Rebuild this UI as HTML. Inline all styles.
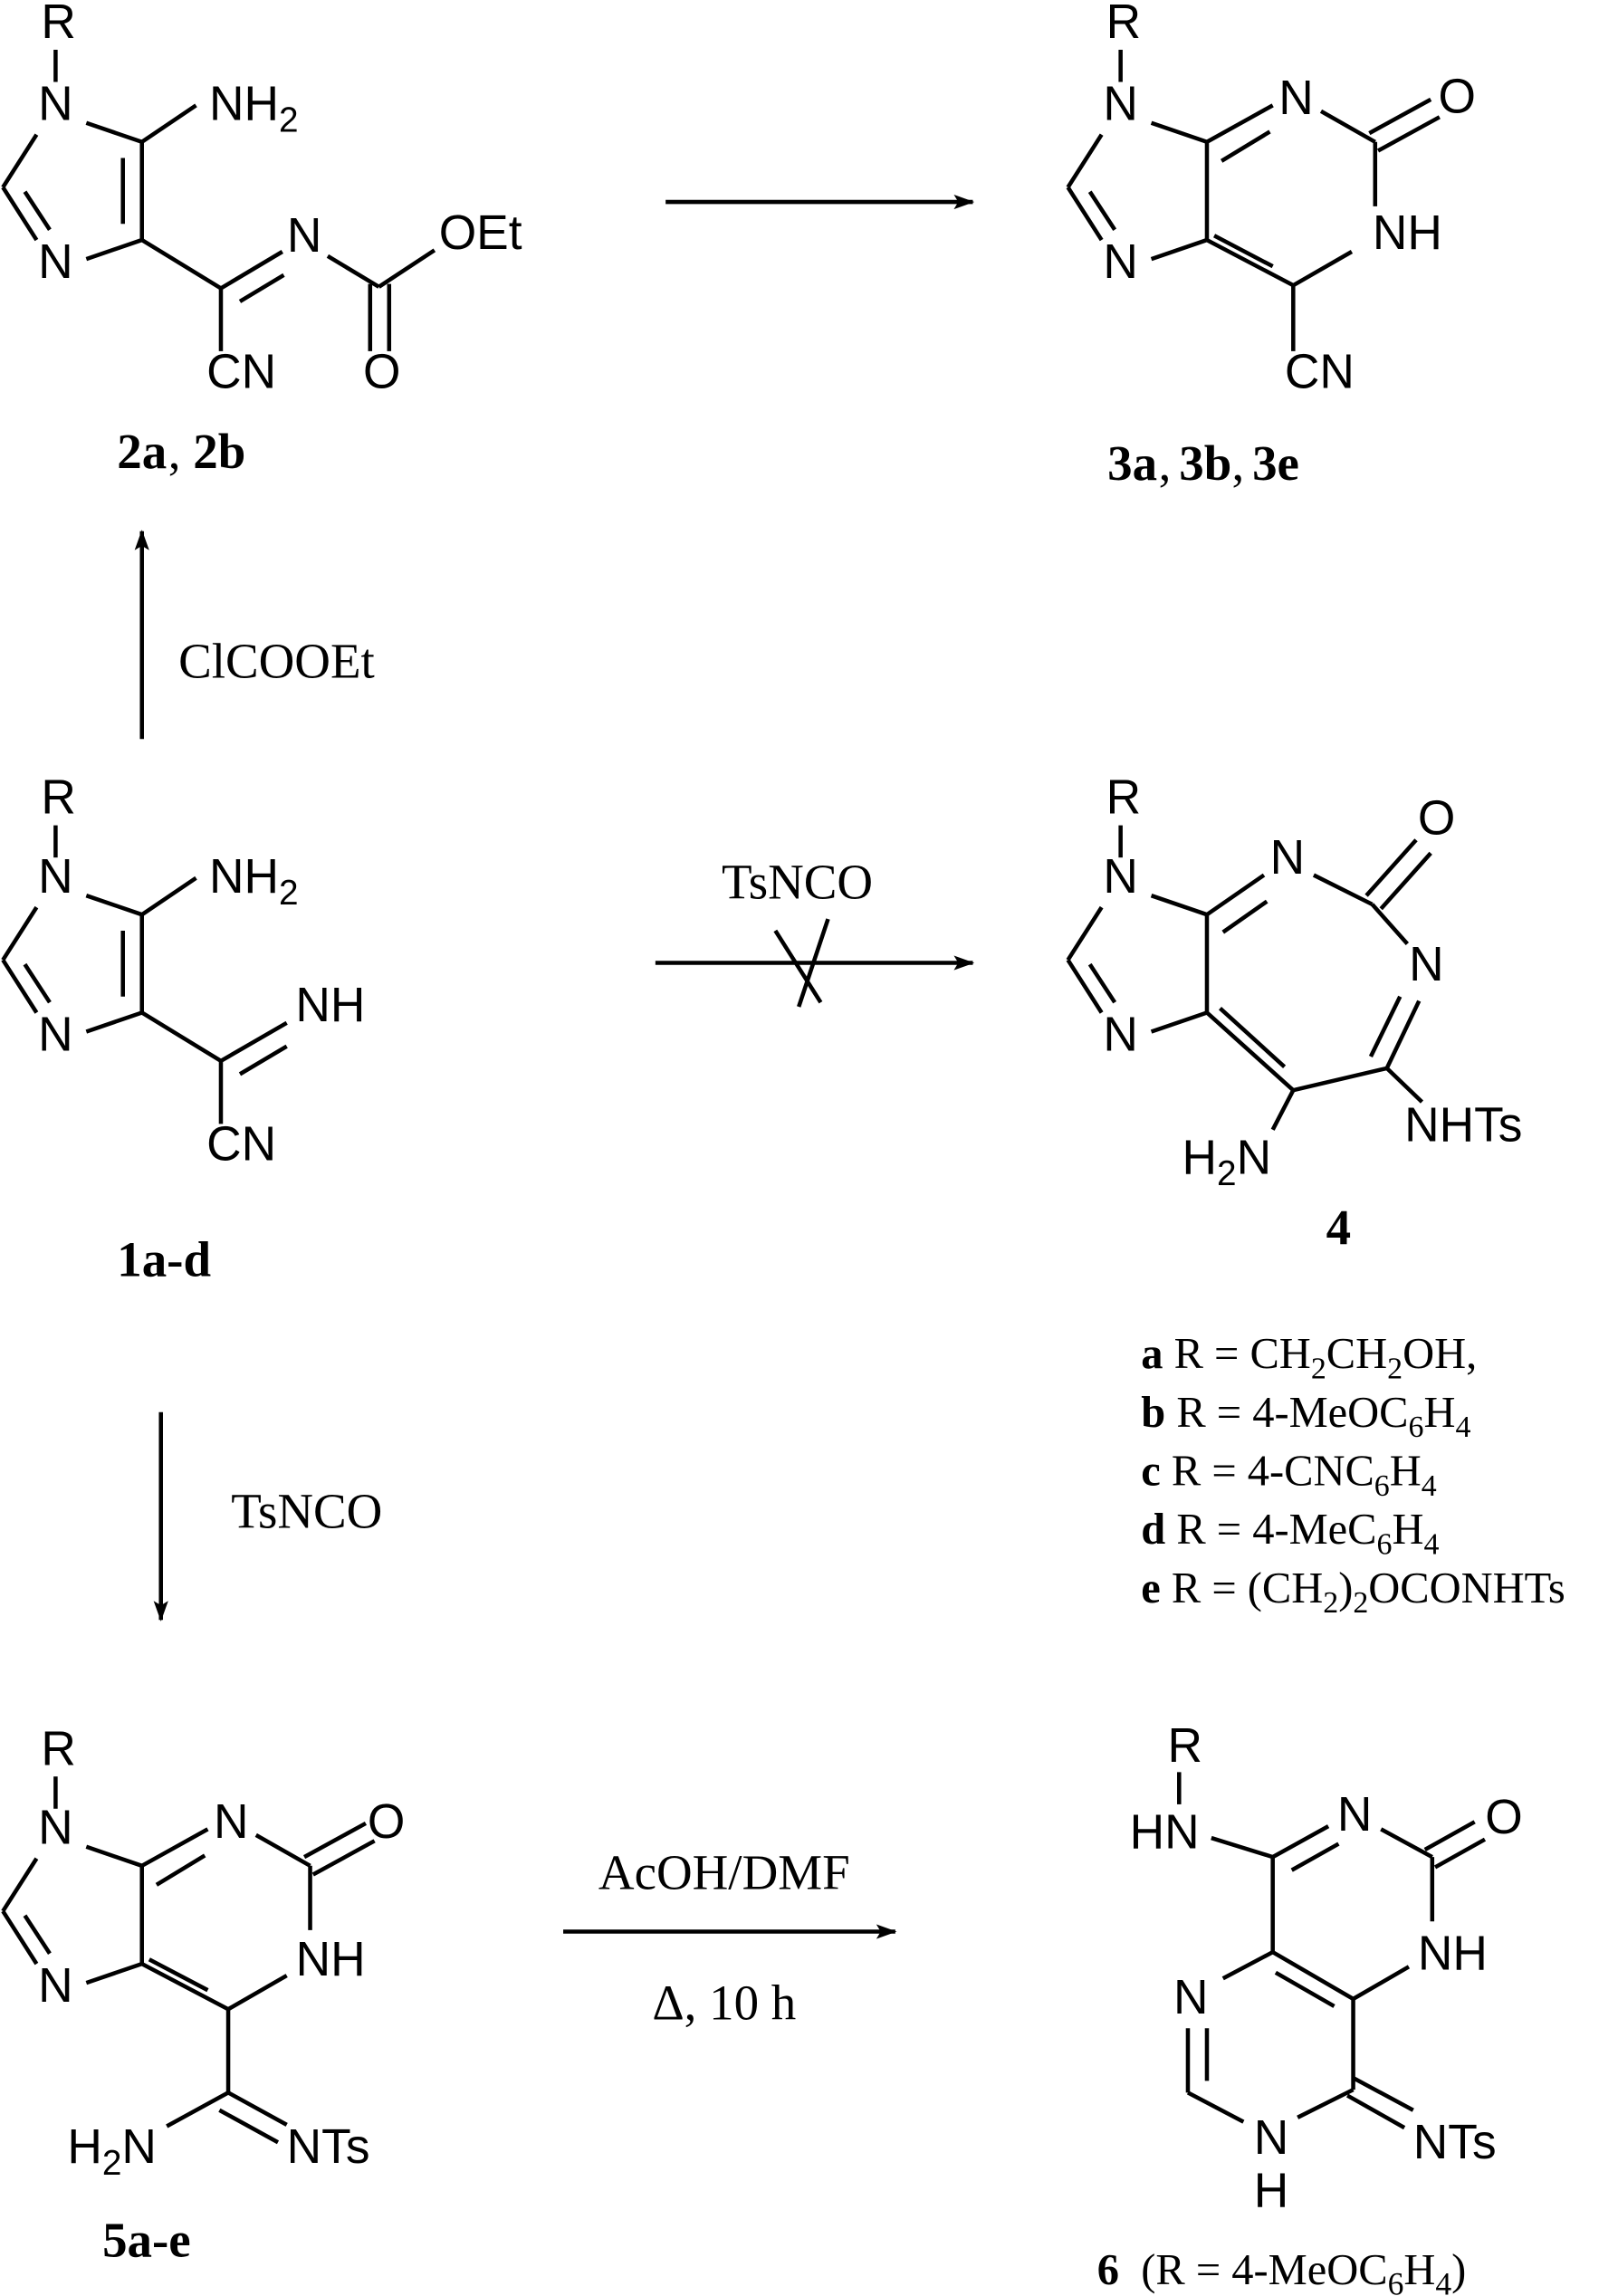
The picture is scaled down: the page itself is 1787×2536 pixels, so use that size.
<!DOCTYPE html>
<html><head><meta charset="utf-8"><style>
html,body{margin:0;padding:0;background:#fff}
svg{display:block}
.a{font-family:"Liberation Sans",Arial,sans-serif;font-size:33px;fill:#000}
.s{font-size:24px}
.t{font-family:"Liberation Serif","Times New Roman",serif;font-size:30px;fill:#000}
.r{font-size:34px}
.b{font-weight:bold}
line,polyline{stroke:#000;stroke-width:2.8;fill:none;stroke-linecap:butt}
</style></head><body>
<svg width="1787" height="2536" viewBox="0 0 1106 1569" preserveAspectRatio="none" xmlns="http://www.w3.org/2000/svg">
<defs>
<marker id="ah" markerWidth="14" markerHeight="10" refX="13" refY="5" orient="auto" markerUnits="userSpaceOnUse">
<path d="M0,0 L14,5 L0,10 L3,5 Z" fill="#000"/></marker>
</defs>

<!-- ========== 2a,2b ========== -->
<g>
<text class="a" x="40" y="26" text-anchor="middle">R</text>
<line x1="38" y1="34" x2="38" y2="56"/>
<text class="a" x="38" y="82" text-anchor="middle">N</text>
<text class="a" x="143" y="82">NH<tspan class="s" dy="8">2</tspan></text>
<line x1="59" y1="84" x2="97" y2="97"/>
<line x1="97" y1="97" x2="134" y2="72"/>
<line x1="97" y1="97" x2="97" y2="164"/>
<line x1="84" y1="108" x2="84" y2="153"/>
<line x1="97" y1="164" x2="59" y2="177"/>
<text class="a" x="38" y="190" text-anchor="middle">N</text>
<line x1="25" y1="92" x2="2" y2="128"/>
<line x1="2" y1="128" x2="25" y2="164"/>
<line x1="17" y1="131" x2="34" y2="157"/>
<line x1="97" y1="164" x2="151" y2="197"/>
<line x1="151" y1="197" x2="193" y2="172"/>
<line x1="164" y1="206" x2="194" y2="188"/>
<text class="a" x="208" y="172" text-anchor="middle">N</text>
<line x1="224" y1="175" x2="259" y2="196"/>
<line x1="259" y1="196" x2="297" y2="171"/>
<text class="a" x="300" y="170">OEt</text>
<line x1="253" y1="194" x2="253" y2="240"/>
<line x1="266" y1="194" x2="266" y2="240"/>
<text class="a" x="261" y="265" text-anchor="middle">O</text>
<line x1="151" y1="197" x2="151" y2="240"/>
<text class="a" x="165" y="265" text-anchor="middle">CN</text>
<text class="t b r" x="80" y="320">2a</text><text class="t r" x="115" y="320">, </text><text class="t b r" x="132" y="320">2b</text>
</g>

<!-- top arrow -->
<line x1="455" y1="138" x2="665" y2="138" marker-end="url(#ah)"/>

<!-- ========== 3a ========== -->
<g>
<text class="a" x="768" y="26" text-anchor="middle">R</text>
<line x1="766" y1="34" x2="766" y2="56"/>
<text class="a" x="766" y="82" text-anchor="middle">N</text>
<line x1="787" y1="84" x2="825" y2="97"/>
<line x1="825" y1="97" x2="825" y2="164"/>
<line x1="825" y1="164" x2="787" y2="177"/>
<text class="a" x="766" y="190" text-anchor="middle">N</text>
<line x1="753" y1="92" x2="730" y2="128"/>
<line x1="730" y1="128" x2="753" y2="164"/>
<line x1="745" y1="131" x2="762" y2="157"/>
<line x1="825" y1="97" x2="870" y2="72"/>
<line x1="835" y1="110" x2="868" y2="90"/>
<text class="a" x="886" y="78" text-anchor="middle">N</text>
<line x1="903" y1="76" x2="940" y2="97"/>
<line x1="936" y1="91" x2="978" y2="68"/>
<line x1="942" y1="103" x2="984" y2="80"/>
<text class="a" x="996" y="77" text-anchor="middle">O</text>
<line x1="940" y1="97" x2="940" y2="141"/>
<text class="a" x="962" y="170" text-anchor="middle">NH</text>
<line x1="924" y1="172" x2="884" y2="195"/>
<line x1="884" y1="195" x2="825" y2="164"/>
<line x1="870" y1="182" x2="830" y2="161"/>
<line x1="884" y1="195" x2="884" y2="240"/>
<text class="a" x="902" y="265" text-anchor="middle">CN</text>
<text class="t b r" x="757" y="328">3a</text><text class="t r" x="792" y="328">, </text><text class="t b r" x="806" y="328">3b</text><text class="t r" x="842" y="328">, </text><text class="t b r" x="856" y="328">3e</text>
</g>

<!-- up arrow -->
<line x1="97" y1="505" x2="97" y2="363" marker-end="url(#ah)"/>
<text class="t r" x="122" y="463">ClCOOEt</text>

<!-- ========== 1a-d ========== -->
<g>
<text class="a" x="40" y="556" text-anchor="middle">R</text>
<line x1="38" y1="564" x2="38" y2="586"/>
<text class="a" x="38" y="610" text-anchor="middle">N</text>
<text class="a" x="143" y="610">NH<tspan class="s" dy="8">2</tspan></text>
<line x1="59" y1="612" x2="97" y2="625"/>
<line x1="97" y1="625" x2="134" y2="600"/>
<line x1="97" y1="625" x2="97" y2="692"/>
<line x1="84" y1="636" x2="84" y2="681"/>
<line x1="97" y1="692" x2="59" y2="705"/>
<text class="a" x="38" y="718" text-anchor="middle">N</text>
<line x1="25" y1="620" x2="2" y2="656"/>
<line x1="2" y1="656" x2="25" y2="692"/>
<line x1="17" y1="659" x2="34" y2="685"/>
<line x1="97" y1="692" x2="151" y2="725"/>
<line x1="151" y1="725" x2="196" y2="699"/>
<line x1="164" y1="734" x2="196" y2="715"/>
<text class="a" x="202" y="698">NH</text>
<line x1="151" y1="725" x2="151" y2="768"/>
<text class="a" x="165" y="793" text-anchor="middle">CN</text>
<text class="t b r" x="80" y="872">1a-d</text>
</g>

<!-- middle arrow (blocked) -->
<text class="t r" x="545" y="614" text-anchor="middle">TsNCO</text>
<line x1="448" y1="658" x2="665" y2="658" marker-end="url(#ah)"/>
<line x1="530" y1="636" x2="561" y2="685"/>
<line x1="546" y1="688" x2="566" y2="628"/>

<!-- ========== 4 ========== -->
<g>
<text class="a" x="768" y="556" text-anchor="middle">R</text>
<line x1="766" y1="564" x2="766" y2="586"/>
<text class="a" x="766" y="610" text-anchor="middle">N</text>
<line x1="787" y1="612" x2="825" y2="625"/>
<line x1="825" y1="625" x2="825" y2="692"/>
<line x1="825" y1="692" x2="787" y2="705"/>
<text class="a" x="766" y="718" text-anchor="middle">N</text>
<line x1="753" y1="620" x2="730" y2="656"/>
<line x1="730" y1="656" x2="753" y2="692"/>
<line x1="745" y1="659" x2="762" y2="685"/>
<line x1="825" y1="625" x2="864" y2="598"/>
<line x1="836" y1="637" x2="866" y2="616"/>
<text class="a" x="880" y="597" text-anchor="middle">N</text>
<line x1="898" y1="598" x2="938" y2="618"/>
<line x1="934" y1="612" x2="968" y2="574"/>
<line x1="944" y1="621" x2="978" y2="583"/>
<text class="a" x="982" y="570" text-anchor="middle">O</text>
<line x1="938" y1="618" x2="962" y2="645"/>
<text class="a" x="975" y="670" text-anchor="middle">N</text>
<line x1="970" y1="684" x2="948" y2="730"/>
<line x1="957" y1="681" x2="937" y2="722"/>
<line x1="948" y1="730" x2="972" y2="753"/>
<text class="a" x="960" y="780">NHTs</text>
<line x1="948" y1="730" x2="884" y2="745"/>
<line x1="884" y1="745" x2="825" y2="692"/>
<line x1="878" y1="729" x2="834" y2="689"/>
<line x1="884" y1="745" x2="870" y2="772"/>
<text class="a" x="808" y="802">H<tspan class="s" dy="8">2</tspan><tspan dy="-8">N</tspan></text>
<text class="t b r" x="915" y="850" text-anchor="middle">4</text>
</g>

<!-- legend -->
<g>
<text class="t" font-size="31" x="780" y="935"><tspan font-weight="bold">a</tspan> R = CH<tspan font-size="21" dy="7">2</tspan><tspan dy="-7">CH</tspan><tspan font-size="21" dy="7">2</tspan><tspan dy="-7">OH,</tspan></text>
<text class="t" font-size="31" x="780" y="975"><tspan font-weight="bold">b</tspan> R = 4-MeOC<tspan font-size="21" dy="7">6</tspan><tspan dy="-7">H</tspan><tspan font-size="21" dy="7">4</tspan></text>
<text class="t" font-size="31" x="780" y="1015"><tspan font-weight="bold">c</tspan> R = 4-CNC<tspan font-size="21" dy="7">6</tspan><tspan dy="-7">H</tspan><tspan font-size="21" dy="7">4</tspan></text>
<text class="t" font-size="31" x="780" y="1055"><tspan font-weight="bold">d</tspan> R = 4-MeC<tspan font-size="21" dy="7">6</tspan><tspan dy="-7">H</tspan><tspan font-size="21" dy="7">4</tspan></text>
<text class="t" font-size="31" x="780" y="1095"><tspan font-weight="bold">e</tspan> R = (CH<tspan font-size="21" dy="7">2</tspan><tspan dy="-7">)</tspan><tspan font-size="21" dy="7">2</tspan><tspan dy="-7">OCONHTs</tspan></text>
</g>

<!-- down arrow -->
<line x1="110" y1="965" x2="110" y2="1107" marker-end="url(#ah)"/>
<text class="t r" x="158" y="1044">TsNCO</text>

<!-- ========== 5a-e ========== -->
<g>
<text class="a" x="40" y="1206" text-anchor="middle">R</text>
<line x1="38" y1="1214" x2="38" y2="1236"/>
<text class="a" x="38" y="1260" text-anchor="middle">N</text>
<line x1="59" y1="1262" x2="97" y2="1275"/>
<line x1="97" y1="1275" x2="97" y2="1342"/>
<line x1="97" y1="1342" x2="59" y2="1355"/>
<text class="a" x="38" y="1368" text-anchor="middle">N</text>
<line x1="25" y1="1270" x2="2" y2="1306"/>
<line x1="2" y1="1306" x2="25" y2="1342"/>
<line x1="17" y1="1309" x2="34" y2="1335"/>
<line x1="97" y1="1275" x2="142" y2="1250"/>
<line x1="107" y1="1288" x2="140" y2="1268"/>
<text class="a" x="158" y="1256" text-anchor="middle">N</text>
<line x1="175" y1="1254" x2="212" y2="1275"/>
<line x1="208" y1="1269" x2="250" y2="1246"/>
<line x1="214" y1="1281" x2="256" y2="1258"/>
<text class="a" x="264" y="1256" text-anchor="middle">O</text>
<line x1="212" y1="1275" x2="212" y2="1319"/>
<text class="a" x="226" y="1350" text-anchor="middle">NH</text>
<line x1="196" y1="1350" x2="156" y2="1373"/>
<line x1="156" y1="1373" x2="97" y2="1342"/>
<line x1="142" y1="1360" x2="102" y2="1339"/>
<line x1="156" y1="1373" x2="156" y2="1430"/>
<line x1="156" y1="1430" x2="114" y2="1453"/>
<line x1="156" y1="1430" x2="196" y2="1452"/>
<line x1="150" y1="1442" x2="190" y2="1464"/>
<text class="a" x="46" y="1478">H<tspan class="s" dy="8">2</tspan><tspan dy="-8">N</tspan></text>
<text class="a" x="196" y="1478">NTs</text>
<text class="t b r" x="70" y="1542">5a-e</text>
</g>

<!-- bottom arrow -->
<text class="t r" x="495" y="1291" text-anchor="middle">AcOH/DMF</text>
<line x1="385" y1="1320" x2="612" y2="1320" marker-end="url(#ah)"/>
<text class="t r" x="495" y="1380" text-anchor="middle">Δ, 10 h</text>

<!-- ========== 6 ========== -->
<g>
<text class="a" x="810" y="1204" text-anchor="middle">R</text>
<line x1="806" y1="1211" x2="806" y2="1233"/>
<text class="a" x="796" y="1263" text-anchor="middle">HN</text>
<line x1="828" y1="1256" x2="870" y2="1269"/>
<line x1="870" y1="1269" x2="908" y2="1248"/>
<line x1="883" y1="1278" x2="915" y2="1260"/>
<text class="a" x="926" y="1251" text-anchor="middle">N</text>
<line x1="944" y1="1250" x2="979" y2="1269"/>
<line x1="974" y1="1264" x2="1008" y2="1245"/>
<line x1="981" y1="1276" x2="1015" y2="1257"/>
<text class="a" x="1028" y="1253" text-anchor="middle">O</text>
<line x1="979" y1="1269" x2="979" y2="1313"/>
<text class="a" x="993" y="1346" text-anchor="middle">NH</text>
<line x1="963" y1="1344" x2="925" y2="1366"/>
<line x1="870" y1="1269" x2="870" y2="1334"/>
<line x1="870" y1="1334" x2="925" y2="1366"/>
<line x1="872" y1="1348" x2="912" y2="1371"/>
<line x1="870" y1="1334" x2="836" y2="1352"/>
<text class="a" x="814" y="1376" text-anchor="middle">N</text>
<line x1="812" y1="1386" x2="812" y2="1430"/>
<line x1="825" y1="1386" x2="825" y2="1422"/>
<line x1="812" y1="1430" x2="850" y2="1450"/>
<text class="a" x="869" y="1472" text-anchor="middle">N</text>
<text class="a" x="869" y="1508" text-anchor="middle">H</text>
<line x1="887" y1="1447" x2="925" y2="1428"/>
<line x1="925" y1="1366" x2="925" y2="1428"/>
<line x1="925" y1="1420" x2="966" y2="1442"/>
<line x1="921" y1="1432" x2="960" y2="1454"/>
<text class="a" x="966" y="1475">NTs</text>
<text class="t" font-size="33" x="750" y="1561" xml:space="preserve"><tspan font-weight="bold">6</tspan>  (R = 4-MeOC<tspan font-size="22" dy="7">6</tspan><tspan dy="-7">H</tspan><tspan font-size="22" dy="7">4</tspan><tspan dy="-7">)</tspan></text>
</g>
</svg>
</body></html>
